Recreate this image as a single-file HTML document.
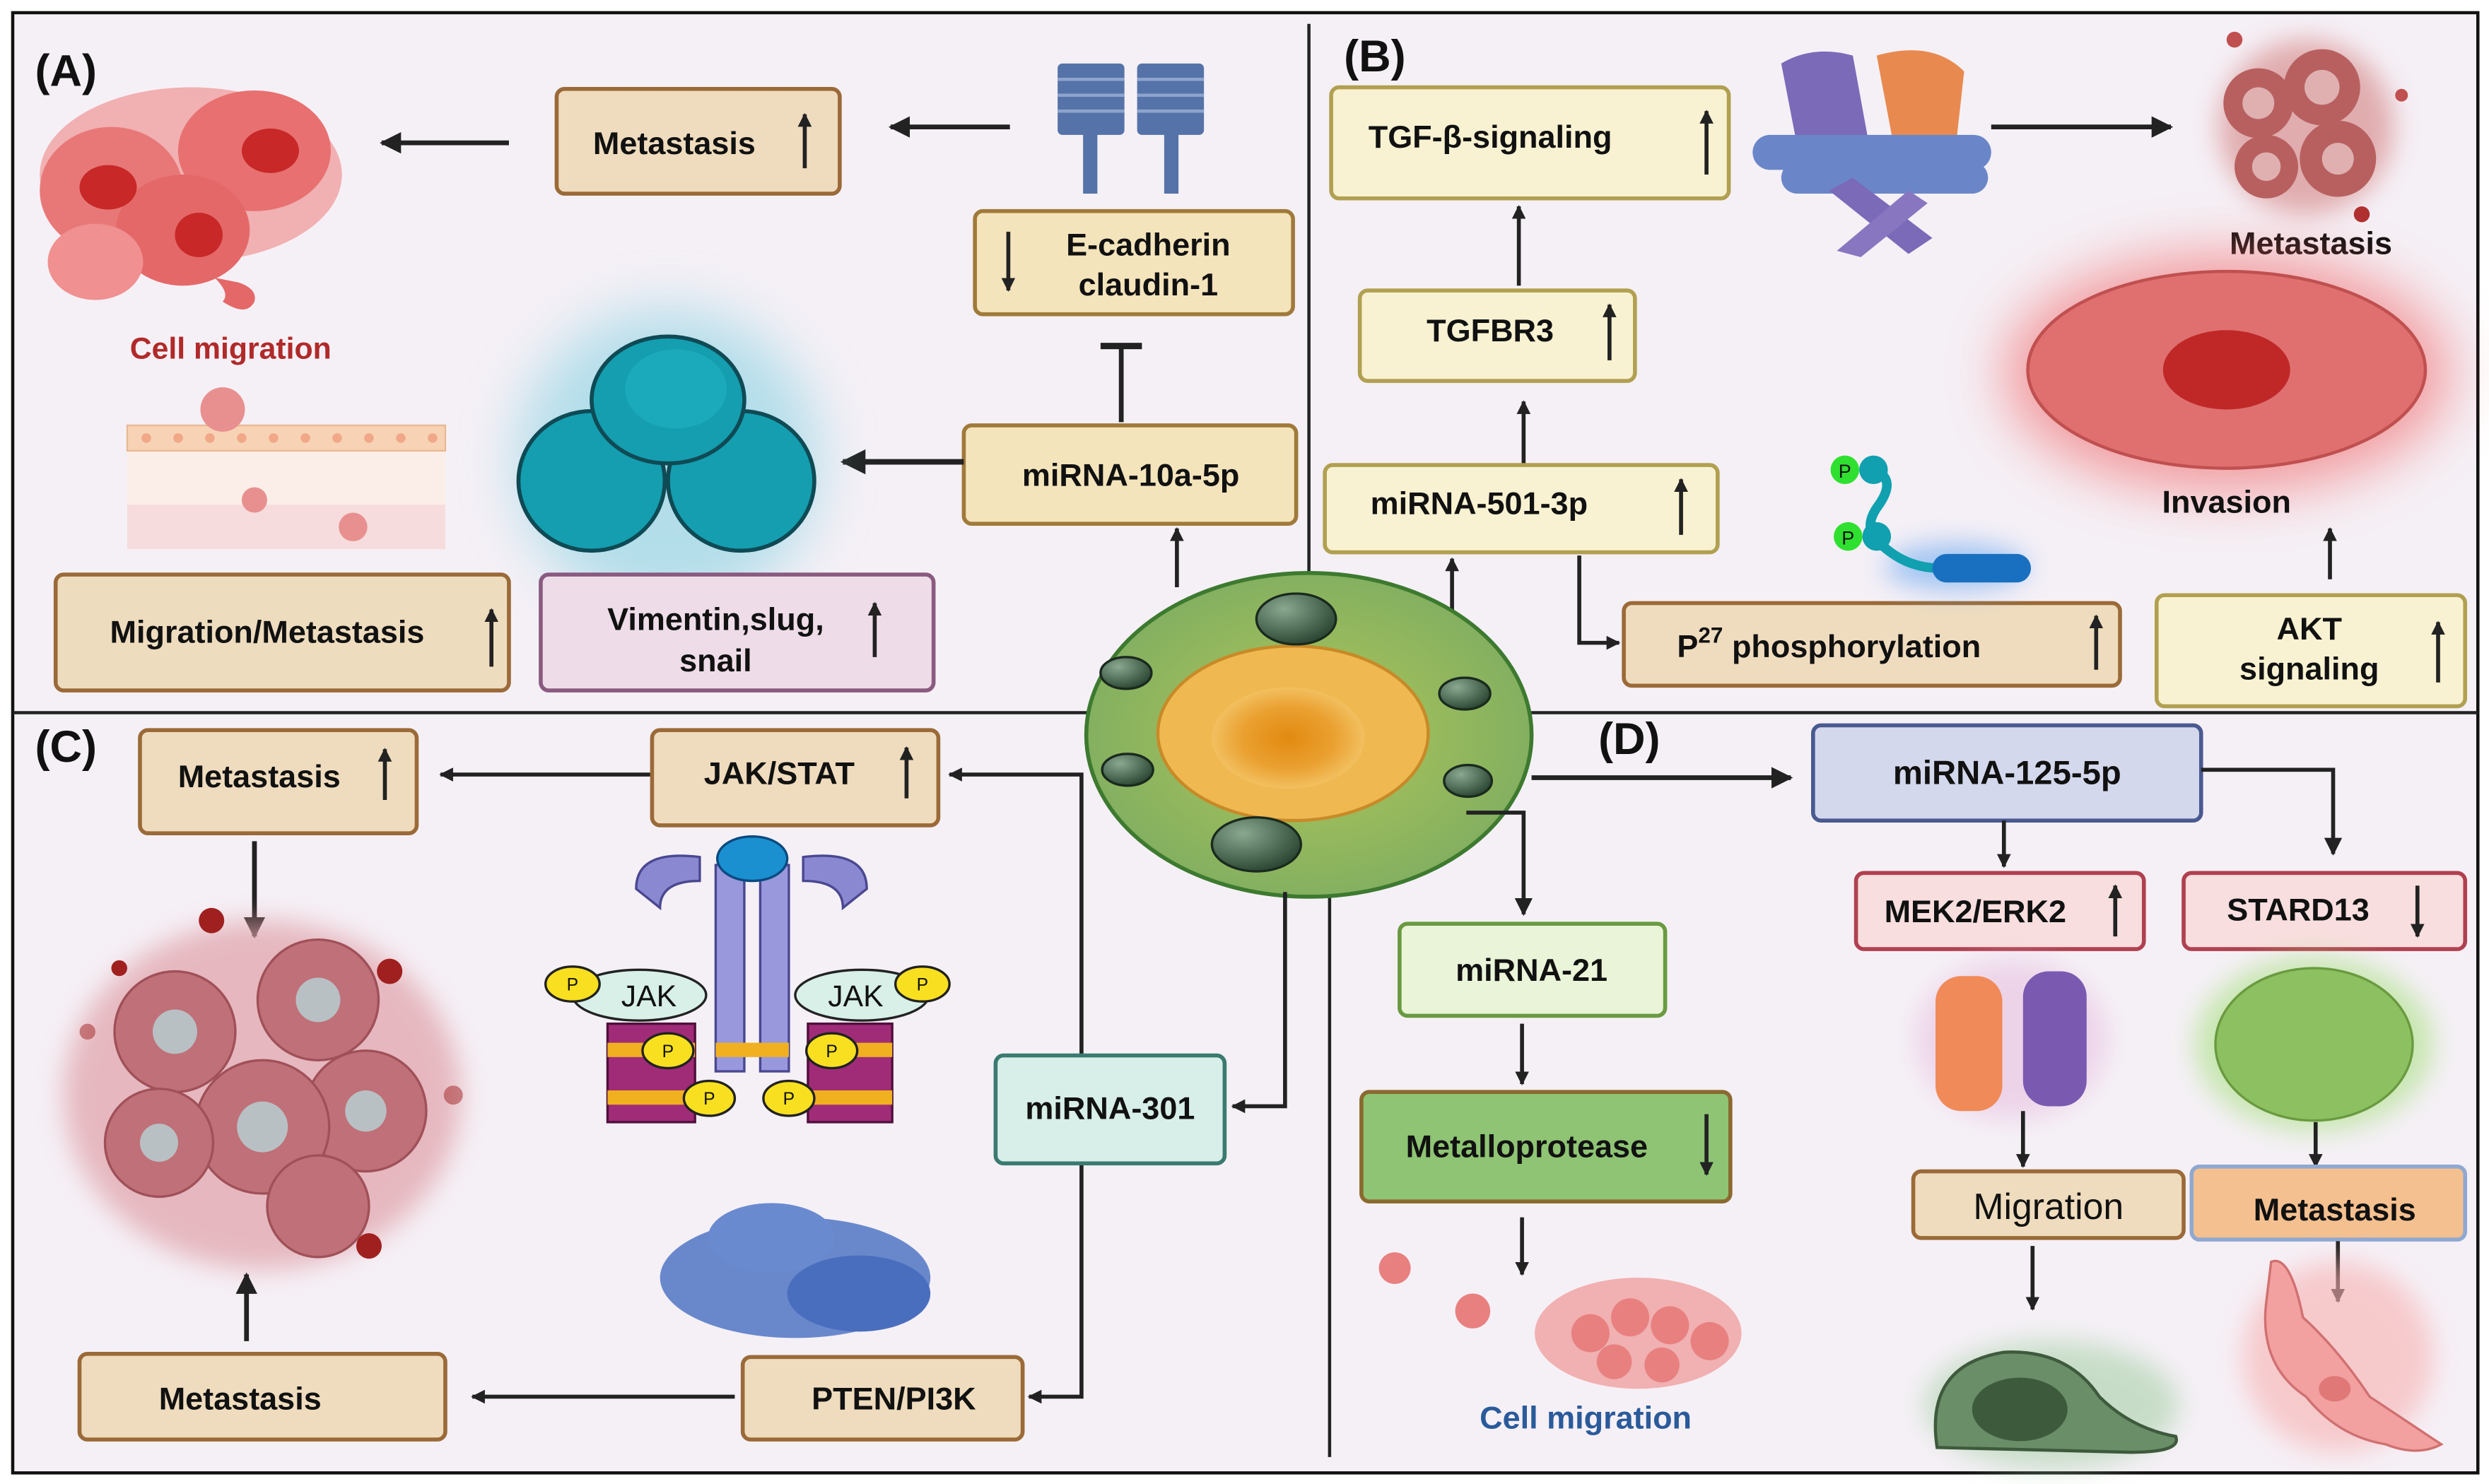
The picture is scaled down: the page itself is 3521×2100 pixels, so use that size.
<!DOCTYPE html>
<html><head><meta charset="utf-8"><style>
html,body{margin:0;padding:0;background:#fff;}
svg{display:block;}
text{font-family:"Liberation Sans",Arial,sans-serif;font-weight:bold;fill:#111;}
</style></head><body>
<svg width="3521" height="2100" viewBox="0 0 1565 935" preserveAspectRatio="none" xmlns="http://www.w3.org/2000/svg">
<defs>
<marker id="ar" viewBox="0 0 10 10" refX="9" refY="5" markerWidth="4.5" markerHeight="4.5" orient="auto-start-reverse"><path d="M0,0 L10,5 L0,10 z" fill="#222"/></marker>
<marker id="ar2" viewBox="0 0 10 10" refX="9" refY="5" markerWidth="3.5" markerHeight="3.5" orient="auto-start-reverse"><path d="M0,0 L10,5 L0,10 z" fill="#222"/></marker>
<filter id="bl" x="-50%" y="-50%" width="200%" height="200%"><feGaussianBlur stdDeviation="18"/></filter>
<filter id="bl2" x="-50%" y="-50%" width="200%" height="200%"><feGaussianBlur stdDeviation="8"/></filter>
<radialGradient id="cellg" cx="50%" cy="50%" r="50%"><stop offset="0" stop-color="#d7a030"/><stop offset="0.45" stop-color="#9cbc5c"/><stop offset="1" stop-color="#84b060"/></radialGradient>
<radialGradient id="nuc" cx="50%" cy="50%" r="50%"><stop offset="0" stop-color="#e28a10"/><stop offset="0.6" stop-color="#eaa030"/><stop offset="1" stop-color="#f2c060"/></radialGradient>
<radialGradient id="ves" cx="35%" cy="30%" r="70%"><stop offset="0" stop-color="#8aa890"/><stop offset="1" stop-color="#2e4a36"/></radialGradient>
</defs>
<rect x="0" y="0" width="1565" height="935" fill="#fff"/>
<rect x="8" y="8" width="1550" height="920" fill="#f5f0f6" stroke="#111" stroke-width="2"/>

<!-- dividers -->
<line x1="823" y1="15" x2="823" y2="365" stroke="#222" stroke-width="2"/>
<line x1="836" y1="565" x2="836" y2="918" stroke="#222" stroke-width="2"/>
<line x1="8" y1="449" x2="690" y2="449" stroke="#222" stroke-width="2"/>
<line x1="958" y1="449" x2="1558" y2="449" stroke="#222" stroke-width="2"/>

<!-- ============ Panel A ============ -->
<text x="22" y="54" font-size="28">(A)</text>
<!-- cell migration cluster -->
<g>
<ellipse cx="120" cy="110" rx="95" ry="55" fill="#f0a0a0" opacity="0.8"/>
<ellipse cx="70" cy="120" rx="45" ry="40" fill="#e87878"/>
<ellipse cx="160" cy="95" rx="48" ry="38" fill="#e87070"/>
<ellipse cx="115" cy="145" rx="42" ry="35" fill="#e46868"/>
<ellipse cx="60" cy="165" rx="30" ry="24" fill="#f09090"/>
<ellipse cx="68" cy="118" rx="18" ry="14" fill="#c82828"/>
<ellipse cx="170" cy="95" rx="18" ry="14" fill="#c82828"/>
<ellipse cx="125" cy="148" rx="15" ry="14" fill="#c82828"/>
<path d="M135,175 Q145,185 140,190 Q155,200 160,190 Q162,182 150,178 Z" fill="#e46868"/>
</g>
<text x="145" y="226" font-size="19" text-anchor="middle" style="fill:#b02a2a">Cell migration</text>
<line x1="320" y1="90" x2="240" y2="90" stroke="#222" stroke-width="3" marker-end="url(#ar)"/>
<rect x="350" y="56" width="178" height="66" rx="5" fill="#efdcbe" stroke="#9a6a38" stroke-width="2.5"/>
<text x="424" y="97" font-size="20" text-anchor="middle">Metastasis</text>
<line x1="506" y1="106" x2="506" y2="72" stroke="#222" stroke-width="2.5" marker-end="url(#ar2)"/>
<line x1="635" y1="80" x2="560" y2="80" stroke="#222" stroke-width="3" marker-end="url(#ar)"/>
<!-- cadherin -->
<g fill="#5573a8">
<rect x="665" y="40" width="42" height="45" rx="3"/>
<rect x="715" y="40" width="42" height="45" rx="3"/>
<rect x="681" y="80" width="9" height="42"/>
<rect x="732" y="80" width="9" height="42"/>
</g>
<g stroke="#8ea4cc" stroke-width="2"><line x1="665" y1="50" x2="707" y2="50"/><line x1="665" y1="60" x2="707" y2="60"/><line x1="665" y1="70" x2="707" y2="70"/><line x1="715" y1="50" x2="757" y2="50"/><line x1="715" y1="60" x2="757" y2="60"/><line x1="715" y1="70" x2="757" y2="70"/></g>
<rect x="613" y="133" width="200" height="65" rx="5" fill="#f4e4bc" stroke="#a07a3a" stroke-width="2.5"/>
<line x1="634" y1="146" x2="634" y2="183" stroke="#222" stroke-width="2.5" marker-end="url(#ar2)"/>
<text x="722" y="161" font-size="20" text-anchor="middle">E-cadherin</text>
<text x="722" y="186" font-size="20" text-anchor="middle">claudin-1</text>
<line x1="705" y1="266" x2="705" y2="218" stroke="#222" stroke-width="3"/>
<line x1="692" y1="218" x2="718" y2="218" stroke="#222" stroke-width="4"/>
<rect x="606" y="268" width="209" height="62" rx="5" fill="#f4e4bc" stroke="#a07a3a" stroke-width="2.5"/>
<text x="711" y="306" font-size="20" text-anchor="middle">miRNA-10a-5p</text>
<line x1="606" y1="291" x2="530" y2="291" stroke="#222" stroke-width="3.5" marker-end="url(#ar)"/>
<line x1="740" y1="370" x2="740" y2="333" stroke="#222" stroke-width="2.5" marker-end="url(#ar2)"/>
<!-- teal trio -->
<circle cx="420" cy="290" r="95" fill="#7ccfe0" opacity="0.55" filter="url(#bl)"/>
<g stroke="#0f4a55" stroke-width="2.5" fill="#149eaf">
<ellipse cx="372" cy="303" rx="46" ry="44"/>
<ellipse cx="466" cy="303" rx="46" ry="44"/>
<ellipse cx="420" cy="252" rx="48" ry="40"/>
</g>
<ellipse cx="425" cy="245" rx="32" ry="25" fill="#1aaabb"/>
<!-- migration tissue -->
<g>
<rect x="80" y="268" width="200" height="78" fill="#fbeee8"/>
<rect x="80" y="268" width="200" height="16" fill="#f8d2b4" stroke="#e8b890" stroke-width="1"/>
<g fill="#f0a888"><circle cx="92" cy="276" r="3"/><circle cx="112" cy="276" r="3"/><circle cx="132" cy="276" r="3"/><circle cx="152" cy="276" r="3"/><circle cx="172" cy="276" r="3"/><circle cx="192" cy="276" r="3"/><circle cx="212" cy="276" r="3"/><circle cx="232" cy="276" r="3"/><circle cx="252" cy="276" r="3"/><circle cx="272" cy="276" r="3"/></g>
<rect x="80" y="318" width="200" height="28" fill="#f6dcdc"/>
<circle cx="140" cy="258" r="14" fill="#e89090"/>
<circle cx="160" cy="315" r="8" fill="#e89090"/>
<circle cx="222" cy="332" r="9" fill="#e89090"/>
</g>
<rect x="35" y="362" width="285" height="73" rx="5" fill="#eedcbe" stroke="#9a6a38" stroke-width="2.5"/>
<text x="168" y="405" font-size="20" text-anchor="middle">Migration/Metastasis</text>
<line x1="309" y1="420" x2="309" y2="384" stroke="#222" stroke-width="2.5" marker-end="url(#ar2)"/>
<rect x="340" y="362" width="247" height="73" rx="5" fill="#eedde8" stroke="#8a5a80" stroke-width="2.5"/>
<text x="450" y="397" font-size="20" text-anchor="middle">Vimentin,slug,</text>
<text x="450" y="423" font-size="20" text-anchor="middle">snail</text>
<line x1="550" y1="414" x2="550" y2="380" stroke="#222" stroke-width="2.5" marker-end="url(#ar2)"/>

<!-- ============ Panel B ============ -->
<text x="845" y="45" font-size="28">(B)</text>
<rect x="837" y="55" width="250" height="70" rx="5" fill="#f8f2d2" stroke="#b0a050" stroke-width="2.5"/>
<text x="937" y="93" font-size="20" text-anchor="middle">TGF-β-signaling</text>
<line x1="1073" y1="110" x2="1073" y2="70" stroke="#222" stroke-width="2.5" marker-end="url(#ar2)"/>
<line x1="955" y1="180" x2="955" y2="130" stroke="#222" stroke-width="2.5" marker-end="url(#ar2)"/>
<rect x="855" y="183" width="173" height="57" rx="5" fill="#f8f2d2" stroke="#b0a050" stroke-width="2.5"/>
<text x="937" y="215" font-size="20" text-anchor="middle">TGFBR3</text>
<line x1="1012" y1="227" x2="1012" y2="192" stroke="#222" stroke-width="2.5" marker-end="url(#ar2)"/>
<line x1="958" y1="293" x2="958" y2="253" stroke="#222" stroke-width="2.5" marker-end="url(#ar2)"/>
<rect x="833" y="293" width="247" height="55" rx="5" fill="#f8f2d2" stroke="#b0a050" stroke-width="2.5"/>
<text x="930" y="324" font-size="20" text-anchor="middle">miRNA-501-3p</text>
<line x1="1057" y1="337" x2="1057" y2="302" stroke="#222" stroke-width="2.5" marker-end="url(#ar2)"/>
<line x1="913" y1="387" x2="913" y2="352" stroke="#222" stroke-width="2.5" marker-end="url(#ar2)"/>
<polyline points="993,350 993,405 1018,405" fill="none" stroke="#222" stroke-width="2.5" marker-end="url(#ar2)"/>
<rect x="1021" y="380" width="312" height="52" rx="5" fill="#efdcbe" stroke="#9a6a38" stroke-width="2.5"/>
<text x="1150" y="414" font-size="20" text-anchor="middle">P<tspan dy="-9" font-size="14">27</tspan><tspan dy="9"> phosphorylation</tspan></text>
<line x1="1318" y1="422" x2="1318" y2="388" stroke="#222" stroke-width="2.5" marker-end="url(#ar2)"/>
<!-- TGF protein -->
<g>
<path d="M1120,40 Q1140,28 1165,35 L1175,90 Q1150,100 1130,92 Z" fill="#7a6ab8"/>
<path d="M1180,35 Q1215,25 1235,45 L1230,90 Q1205,95 1190,88 Z" fill="#e88a50"/>
<rect x="1102" y="85" width="150" height="22" rx="11" fill="#6a86c8"/>
<rect x="1120" y="102" width="130" height="20" rx="10" fill="#6a86c8"/>
<path d="M1150,120 L1200,160 L1215,150 L1165,112 Z" fill="#7a6ab8"/>
<path d="M1200,120 L1155,158 L1170,162 L1212,128 Z" fill="#8876c0"/>
</g>
<line x1="1252" y1="80" x2="1365" y2="80" stroke="#222" stroke-width="3" marker-end="url(#ar)"/>
<!-- metastasis cluster B -->
<circle cx="1450" cy="80" r="55" fill="#d89090" opacity="0.7" filter="url(#bl2)"/>
<g fill="#b86060"><circle cx="1420" cy="65" r="22"/><circle cx="1460" cy="55" r="24"/><circle cx="1470" cy="100" r="24"/><circle cx="1425" cy="105" r="20"/></g>
<g fill="#e0b0b0"><circle cx="1420" cy="65" r="10"/><circle cx="1460" cy="55" r="11"/><circle cx="1470" cy="100" r="10"/><circle cx="1425" cy="105" r="9"/></g>
<circle cx="1405" cy="25" r="5" fill="#c05050"/><circle cx="1510" cy="60" r="4" fill="#c05050"/><circle cx="1485" cy="135" r="5" fill="#b03030"/>
<text x="1453" y="160" font-size="20" text-anchor="middle">Metastasis</text>
<!-- invasion cell -->
<ellipse cx="1400" cy="235" rx="140" ry="75" fill="#f06060" opacity="0.6" filter="url(#bl)"/>
<ellipse cx="1400" cy="233" rx="125" ry="62" fill="#e07070" stroke="#c05050" stroke-width="2"/>
<ellipse cx="1400" cy="233" rx="40" ry="25" fill="#c02828"/>
<text x="1400" y="323" font-size="20" text-anchor="middle">Invasion</text>
<line x1="1465" y1="365" x2="1465" y2="333" stroke="#222" stroke-width="2.5" marker-end="url(#ar2)"/>
<rect x="1356" y="375" width="194" height="70" rx="5" fill="#f8f2d2" stroke="#b0a050" stroke-width="2.5"/>
<text x="1452" y="403" font-size="20" text-anchor="middle">AKT</text>
<text x="1452" y="428" font-size="20" text-anchor="middle">signaling</text>
<line x1="1533" y1="430" x2="1533" y2="392" stroke="#222" stroke-width="2.5" marker-end="url(#ar2)"/>
<!-- P icon -->
<ellipse cx="1230" cy="357" rx="45" ry="15" fill="#6aa8f0" opacity="0.6" filter="url(#bl2)"/>
<path d="M1175,295 Q1195,300 1180,320 Q1170,335 1185,345 Q1200,358 1220,358" fill="none" stroke="#11a0b0" stroke-width="6"/>
<rect x="1215" y="349" width="62" height="18" rx="9" fill="#1a70c0"/>
<circle cx="1178" cy="296" r="9" fill="#11a0b0"/><circle cx="1180" cy="338" r="9" fill="#11a0b0"/>
<circle cx="1160" cy="296" r="9" fill="#30e030"/><circle cx="1162" cy="338" r="9" fill="#30e030"/>
<text x="1160" y="301" font-size="12" text-anchor="middle" style="font-weight:normal">P</text>
<text x="1162" y="343" font-size="12" text-anchor="middle" style="font-weight:normal">P</text>

<!-- ============ Center cell ============ -->
<ellipse cx="823" cy="463" rx="140" ry="102" fill="url(#cellg)" stroke="#3d7a30" stroke-width="2.5"/>
<ellipse cx="813" cy="462" rx="85" ry="55" fill="#f0b850" stroke="#c88a28" stroke-width="2"/>
<ellipse cx="810" cy="465" rx="48" ry="32" fill="url(#nuc)"/>
<g stroke="#1a2a1e" stroke-width="1.5" fill="url(#ves)">
<ellipse cx="815" cy="390" rx="25" ry="16"/>
<ellipse cx="708" cy="424" rx="16" ry="10"/>
<ellipse cx="921" cy="437" rx="16" ry="10"/>
<ellipse cx="709" cy="485" rx="16" ry="10"/>
<ellipse cx="923" cy="492" rx="15" ry="10"/>
<ellipse cx="790" cy="532" rx="28" ry="17"/>
</g>

<!-- ============ Panel C ============ -->
<text x="22" y="480" font-size="28">(C)</text>
<rect x="88" y="460" width="174" height="65" rx="5" fill="#efdcbe" stroke="#9a6a38" stroke-width="2.5"/>
<text x="163" y="496" font-size="20" text-anchor="middle">Metastasis</text>
<line x1="242" y1="504" x2="242" y2="472" stroke="#222" stroke-width="2.5" marker-end="url(#ar2)"/>
<line x1="410" y1="488" x2="277" y2="488" stroke="#222" stroke-width="2.5" marker-end="url(#ar2)"/>
<rect x="410" y="460" width="180" height="60" rx="5" fill="#efdcbe" stroke="#9a6a38" stroke-width="2.5"/>
<text x="490" y="494" font-size="20" text-anchor="middle">JAK/STAT</text>
<line x1="570" y1="503" x2="570" y2="471" stroke="#222" stroke-width="2.5" marker-end="url(#ar2)"/>
<polyline points="680,665 680,488 597,488" fill="none" stroke="#222" stroke-width="2.5" marker-end="url(#ar2)"/>
<polyline points="680,733 680,880 647,880" fill="none" stroke="#222" stroke-width="2.5" marker-end="url(#ar2)"/>
<polyline points="808,562 808,697 775,697" fill="none" stroke="#222" stroke-width="2.5" marker-end="url(#ar2)"/>
<rect x="626" y="665" width="144" height="68" rx="5" fill="#d8eee8" stroke="#3a7a70" stroke-width="2.5"/>
<text x="698" y="705" font-size="20" text-anchor="middle">miRNA-301</text>
<line x1="160" y1="530" x2="160" y2="590" stroke="#222" stroke-width="3" marker-end="url(#ar)"/>
<!-- tumor cluster C -->
<ellipse cx="165" cy="690" rx="125" ry="110" fill="#e0a0a8" opacity="0.7" filter="url(#bl2)"/>
<g fill="#c07078" stroke="#a05058" stroke-width="1.5">
<circle cx="110" cy="650" r="38"/><circle cx="200" cy="630" r="38"/><circle cx="230" cy="700" r="38"/><circle cx="165" cy="710" r="42"/><circle cx="100" cy="720" r="34"/><circle cx="200" cy="760" r="32"/>
</g>
<g fill="#b8c0c4"><circle cx="110" cy="650" r="14"/><circle cx="200" cy="630" r="14"/><circle cx="230" cy="700" r="13"/><circle cx="165" cy="710" r="16"/><circle cx="100" cy="720" r="12"/></g>
<g fill="#a02020"><circle cx="133" cy="580" r="8"/><circle cx="245" cy="612" r="8"/><circle cx="232" cy="785" r="8"/><circle cx="75" cy="610" r="5"/><circle cx="55" cy="650" r="5" opacity="0.5"/><circle cx="285" cy="690" r="6" opacity="0.5"/></g>
<line x1="155" y1="845" x2="155" y2="803" stroke="#222" stroke-width="3" marker-end="url(#ar)"/>
<rect x="50" y="853" width="230" height="54" rx="5" fill="#efdcbe" stroke="#9a6a38" stroke-width="2.5"/>
<text x="151" y="888" font-size="20" text-anchor="middle">Metastasis</text>
<line x1="462" y1="880" x2="297" y2="880" stroke="#222" stroke-width="2.5" marker-end="url(#ar2)"/>
<rect x="467" y="855" width="176" height="52" rx="5" fill="#efdcbe" stroke="#9a6a38" stroke-width="2.5"/>
<text x="562" y="888" font-size="20" text-anchor="middle">PTEN/PI3K</text>
<!-- JAK receptor -->
<g>
<path d="M400,560 Q400,535 440,540 L440,555 Q415,555 415,572 Z" fill="#8a88d0" stroke="#4a4890" stroke-width="1.5"/>
<path d="M545,560 Q545,535 505,540 L505,555 Q530,555 530,572 Z" fill="#8a88d0" stroke="#4a4890" stroke-width="1.5"/>
<rect x="450" y="545" width="18" height="130" fill="#9a98dc" stroke="#4a4890" stroke-width="1.5"/>
<rect x="478" y="545" width="18" height="130" fill="#9a98dc" stroke="#4a4890" stroke-width="1.5"/>
<ellipse cx="473" cy="541" rx="22" ry="14" fill="#1a90d0" stroke="#0a4a80" stroke-width="1.5"/>
<rect x="382" y="645" width="55" height="62" fill="#a02c78" stroke="#50103c" stroke-width="1.5"/>
<rect x="508" y="645" width="53" height="62" fill="#a02c78" stroke="#50103c" stroke-width="1.5"/>
<rect x="382" y="657" width="55" height="9" fill="#f0b020"/><rect x="382" y="687" width="55" height="9" fill="#f0b020"/>
<rect x="508" y="657" width="53" height="9" fill="#f0b020"/><rect x="508" y="687" width="53" height="9" fill="#f0b020"/>
<rect x="450" y="657" width="46" height="9" fill="#f0b020"/>
<ellipse cx="402" cy="627" rx="42" ry="16" fill="#d8f0e8" stroke="#222" stroke-width="1.5"/>
<ellipse cx="542" cy="627" rx="42" ry="16" fill="#d8f0e8" stroke="#222" stroke-width="1.5"/>
<text x="408" y="634" font-size="19" text-anchor="middle" style="font-weight:normal">JAK</text>
<text x="538" y="634" font-size="19" text-anchor="middle" style="font-weight:normal">JAK</text>
<g fill="#f8e020" stroke="#222" stroke-width="1.5">
<ellipse cx="360" cy="620" rx="17" ry="11"/><ellipse cx="580" cy="620" rx="17" ry="11"/>
<ellipse cx="420" cy="662" rx="16" ry="11"/><ellipse cx="523" cy="662" rx="16" ry="11"/>
<ellipse cx="446" cy="692" rx="16" ry="11"/><ellipse cx="496" cy="692" rx="16" ry="11"/>
</g>
<g font-size="11"><text x="360" y="624" text-anchor="middle" style="font-weight:normal">P</text><text x="580" y="624" text-anchor="middle" style="font-weight:normal">P</text><text x="420" y="666" text-anchor="middle" style="font-weight:normal">P</text><text x="523" y="666" text-anchor="middle" style="font-weight:normal">P</text><text x="446" y="696" text-anchor="middle" style="font-weight:normal">P</text><text x="496" y="696" text-anchor="middle" style="font-weight:normal">P</text></g>
</g>
<!-- blue blob -->
<ellipse cx="500" cy="805" rx="85" ry="38" fill="#5a7cc8" opacity="0.9"/>
<ellipse cx="485" cy="780" rx="40" ry="22" fill="#6a8ad0"/>
<ellipse cx="540" cy="815" rx="45" ry="24" fill="#4a6ebe"/>

<!-- ============ Panel D ============ -->
<text x="1005" y="475" font-size="28">(D)</text>
<line x1="963" y1="490" x2="1126" y2="490" stroke="#222" stroke-width="3" marker-end="url(#ar)"/>
<rect x="1140" y="457" width="244" height="60" rx="5" fill="#d4d8ec" stroke="#4a5a90" stroke-width="2.5"/>
<text x="1262" y="494" font-size="21" text-anchor="middle">miRNA-125-5p</text>
<polyline points="1384,485 1467,485 1467,538" fill="none" stroke="#222" stroke-width="2.5" marker-end="url(#ar)"/>
<line x1="1260" y1="517" x2="1260" y2="546" stroke="#222" stroke-width="2.5" marker-end="url(#ar2)"/>
<rect x="1167" y="550" width="181" height="48" rx="5" fill="#f8dede" stroke="#b04050" stroke-width="2.5"/>
<text x="1242" y="581" font-size="20" text-anchor="middle">MEK2/ERK2</text>
<line x1="1330" y1="590" x2="1330" y2="558" stroke="#222" stroke-width="2.5" marker-end="url(#ar2)"/>
<rect x="1373" y="550" width="177" height="48" rx="5" fill="#f8dede" stroke="#b04050" stroke-width="2.5"/>
<text x="1445" y="580" font-size="20" text-anchor="middle">STARD13</text>
<line x1="1520" y1="558" x2="1520" y2="590" stroke="#222" stroke-width="2.5" marker-end="url(#ar2)"/>
<polyline points="922,512 958,512 958,576" fill="none" stroke="#222" stroke-width="2.5" marker-end="url(#ar)"/>
<rect x="880" y="582" width="167" height="58" rx="5" fill="#eaf4d8" stroke="#6a9a40" stroke-width="2.5"/>
<text x="963" y="618" font-size="20" text-anchor="middle">miRNA-21</text>
<line x1="957" y1="645" x2="957" y2="683" stroke="#222" stroke-width="2.5" marker-end="url(#ar2)"/>
<rect x="856" y="688" width="232" height="69" rx="5" fill="#8ec474" stroke="#8a6a30" stroke-width="2.5"/>
<text x="960" y="729" font-size="20" text-anchor="middle">Metalloprotease</text>
<line x1="1073" y1="702" x2="1073" y2="740" stroke="#222" stroke-width="2.5" marker-end="url(#ar2)"/>
<line x1="957" y1="767" x2="957" y2="803" stroke="#222" stroke-width="2.5" marker-end="url(#ar2)"/>
<!-- cell cluster D -->
<ellipse cx="1030" cy="840" rx="65" ry="35" fill="#f0a0a0" opacity="0.8"/>
<g fill="#e88080"><circle cx="1000" cy="840" r="12"/><circle cx="1025" cy="830" r="12"/><circle cx="1050" cy="835" r="12"/><circle cx="1075" cy="845" r="12"/><circle cx="1015" cy="858" r="11"/><circle cx="1045" cy="860" r="11"/></g>
<circle cx="877" cy="799" r="10" fill="#e88080"/><circle cx="926" cy="826" r="11" fill="#e88080"/>
<text x="997" y="900" font-size="20" text-anchor="middle" style="fill:#2a5a9a">Cell migration</text>
<!-- proteins -->
<ellipse cx="1265" cy="655" rx="60" ry="50" fill="#e8c0e0" opacity="0.6" filter="url(#bl2)"/>
<rect x="1217" y="615" width="42" height="85" rx="16" fill="#f08a58"/>
<rect x="1272" y="612" width="40" height="85" rx="16" fill="#7a5ab0"/>
<line x1="1272" y1="700" x2="1272" y2="735" stroke="#222" stroke-width="2.5" marker-end="url(#ar2)"/>
<rect x="1203" y="738" width="170" height="42" rx="5" fill="#efdcbe" stroke="#9a6a38" stroke-width="2.5"/>
<text x="1288" y="768" font-size="23" text-anchor="middle" style="font-weight:normal">Migration</text>
<ellipse cx="1455" cy="658" rx="75" ry="55" fill="#a8e080" opacity="0.6" filter="url(#bl2)"/>
<ellipse cx="1455" cy="658" rx="62" ry="48" fill="#8cc060" stroke="#6a9a40" stroke-width="1.5"/>
<line x1="1456" y1="707" x2="1456" y2="735" stroke="#222" stroke-width="2.5" marker-end="url(#ar2)"/>
<rect x="1378" y="735" width="172" height="46" rx="5" fill="#f5c090" stroke="#90a8d0" stroke-width="2.5"/>
<text x="1468" y="769" font-size="20" text-anchor="middle">Metastasis</text>
<line x1="1278" y1="785" x2="1278" y2="825" stroke="#222" stroke-width="2.5" marker-end="url(#ar2)"/>
<line x1="1470" y1="782" x2="1470" y2="820" stroke="#222" stroke-width="2.5" marker-end="url(#ar2)"/>
<ellipse cx="1290" cy="885" rx="80" ry="40" fill="#a8d0a8" opacity="0.6" filter="url(#bl2)"/>
<path d="M1218,912 Q1210,860 1260,852 Q1300,850 1320,880 Q1340,900 1368,905 Q1372,915 1340,915 Z" fill="#6a8e68" stroke="#3e5a3c" stroke-width="2"/>
<ellipse cx="1270" cy="888" rx="30" ry="20" fill="#3e5a3c"/>
<ellipse cx="1470" cy="855" rx="60" ry="60" fill="#f8b0b0" opacity="0.6" filter="url(#bl2)"/>
<path d="M1428,795 Q1440,790 1448,830 Q1470,850 1490,880 Q1520,900 1535,910 Q1520,918 1500,910 Q1470,905 1450,880 Q1420,860 1425,820 Z" fill="#f2a0a0" stroke="#d07070" stroke-width="1.5"/>
<ellipse cx="1468" cy="875" rx="10" ry="8" fill="#e07878"/>
</svg>
</body></html>
